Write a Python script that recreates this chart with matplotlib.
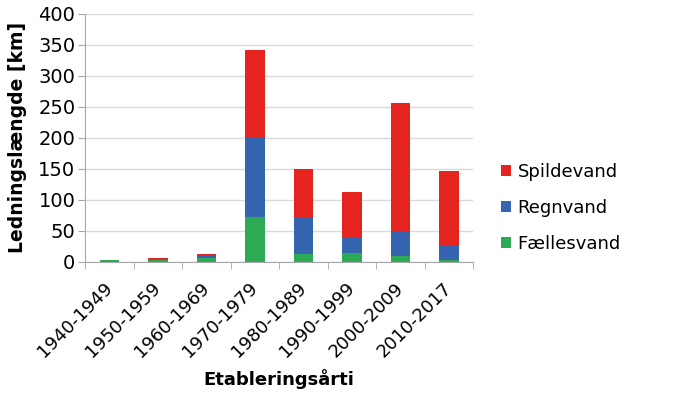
import numpy as np
import matplotlib
matplotlib.use("Agg")
import matplotlib.pyplot as plt

decades = ["1940-1949", "1950-1959", "1960-1969", "1970-1979",
           "1980-1989", "1990-1999", "2000-2009", "2010-2017"]
faellesvand = [3, 3, 6, 72, 12, 15, 9, 3]
regnvand = [0, 0.5, 4, 130, 59, 24, 39, 22]
spildevand = [0, 2.5, 3, 139, 79, 74, 208, 121]

RED = "#e5231f"
BLUE = "#3565b0"
GREEN = "#2eaa57"
GRID = "#d9d9d9"

plt.rcParams['font.family'] = ['DejaVu Sans']

fig = plt.figure(figsize=(7, 3.95), dpi=100)
ax = fig.add_axes([0.1214, 0.337, 0.555, 0.628])

x = np.arange(len(decades))
f = np.array(faellesvand)
r = np.array(regnvand)
s = np.array(spildevand)
w = 0.4
ax.bar(x, f, width=w, color=GREEN, label="Fællesvand", zorder=3)
ax.bar(x, r, width=w, bottom=f, color=BLUE, label="Regnvand", zorder=3)
ax.bar(x, s, width=w, bottom=f + r, color=RED, label="Spildevand", zorder=3)

ax.set_xlim(-0.5, len(decades) - 0.5)
ax.set_ylim(0, 400)
ax.set_yticks(range(0, 401, 50))
ax.yaxis.grid(True, color=GRID, linewidth=1, zorder=0)

ax.set_xticks(x)
ax.set_xticklabels(decades, rotation=45, ha="right", va="center",
                   rotation_mode="anchor", fontsize=13)
ax.set_xticks(np.arange(-0.5, len(decades), 1), minor=True)
ax.tick_params(axis="x", which="major", length=0, pad=17)
ax.tick_params(axis="x", which="minor", length=5, color="#a6a6a6")
ax.tick_params(axis="y", length=5, color="#a6a6a6", labelsize=14, pad=2)

for side in ["top", "right"]:
    ax.spines[side].set_visible(False)
ax.spines["left"].set_color("#a6a6a6")
ax.spines["bottom"].set_color("#a6a6a6")

ax.set_ylabel("Ledningslængde [km]", fontsize=13.5, fontweight="bold")
ax.yaxis.set_label_coords(-0.149, 0.5)
ax.set_xlabel("Etableringsårti", fontsize=13, fontweight="bold", labelpad=5.5)

handles, labels = ax.get_legend_handles_labels()
fig.legend(handles[::-1], labels[::-1], loc="center left",
           bbox_to_anchor=(0.693, 0.474), frameon=False, fontsize=13,
           handlelength=0.55, handleheight=0.55, handletextpad=0.35,
           labelspacing=1.0)

fig.savefig("out.png", dpi=100)
